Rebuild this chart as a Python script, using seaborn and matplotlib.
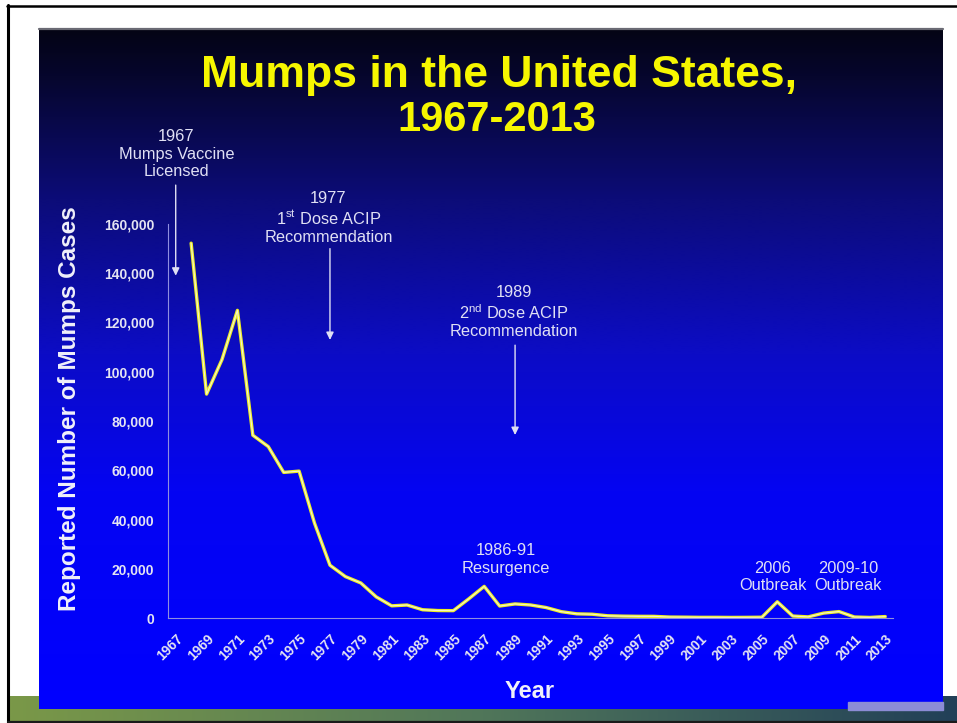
import numpy as np
import pandas as pd
import matplotlib
matplotlib.use("Agg")
import matplotlib.pyplot as plt
from matplotlib.patches import Rectangle
import seaborn as sns

# Reported mumps cases per year
years = list(range(1968, 2014))
cases = [152209, 90918, 104953, 124939, 74215, 69612, 59128, 59647, 38492, 21436,
         16817, 14225, 8576, 4941, 5270, 3355, 3021, 2982, 7790, 12848,
         4866, 5712, 5292, 4264, 2572, 1692, 1537, 906, 751, 683,
         666, 387, 338, 266, 270, 231, 258, 314, 6584, 800,
         454, 1991, 2612, 404, 229, 584]

tick_years = list(range(1967, 2014, 2))
y_ticks = list(range(0, 160001, 20000))

milestone_years = [1967, 1977, 1989]
milestone_texts = ["1967\nMumps Vaccine\nLicensed",
                   "1977\n1$^{\\mathrm{st}}$ Dose ACIP\nRecommendation",
                   "1989\n2$^{\\mathrm{nd}}$ Dose ACIP\nRecommendation"]
event_texts = ["1986-91\nResurgence", "2006\nOutbreak", "2009-10\nOutbreak"]

title_lines = ["Mumps in the United States,", "1967-2013"]

sns.set_style("white")
plt.rcParams["font.family"] = ["Liberation Sans", "DejaVu Sans"]
plt.rcParams["mathtext.fontset"] = "custom"
plt.rcParams["mathtext.rm"] = "Liberation Sans"

W, H = 957, 723
fig = plt.figure(figsize=(W / 100, H / 100), dpi=100, facecolor="white")

# ---- slide background (pixel coordinates) ----
bg = fig.add_axes([0, 0, 1, 1], zorder=0)
bg.set_xlim(0, W)
bg.set_ylim(H, 0)
bg.axis("off")

# footer bar: olive green to dark teal
xs = np.linspace(0, 1, 256)
c_left = np.array([122, 152, 72]) / 255
c_mid = np.array([80, 118, 90]) / 255
c_right = np.array([34, 64, 88]) / 255
bar = np.where(xs[:, None] < 0.5,
               c_left + (c_mid - c_left) * (xs[:, None] / 0.5),
               c_mid + (c_right - c_mid) * ((xs[:, None] - 0.5) / 0.5))
bg.imshow(bar[None, :, :], extent=(10, W, 721, 696), aspect="auto",
          interpolation="bilinear", zorder=1)

# blue panel: dark navy at the top, bright blue at the bottom
stops_y = [0.0, 0.07, 0.25, 0.48, 0.68, 1.0]
stops_c = np.array([[4, 4, 20], [6, 6, 45], [12, 12, 120], [12, 12, 198],
                    [4, 4, 242], [0, 0, 255]]) / 255
ys = np.linspace(0, 1, 400)
grad = np.stack([np.interp(ys, stops_y, stops_c[:, k]) for k in range(3)], axis=1)
bg.imshow(grad[:, None, :], extent=(39, 943, 709, 28), aspect="auto",
          interpolation="bilinear", zorder=2)
bg.plot([39, 943], [29, 29], color="#6a6a74", lw=1.6, zorder=3)
bg.add_patch(Rectangle((848, 702), 95, 8, color="#8c8cd6", zorder=3))

# slide frame
bg.plot([7, W], [5.5, 5.5], color="black", lw=1.8, zorder=4)
bg.plot([8, 8], [5, H], color="black", lw=2.2, zorder=4)
bg.plot([8, W], [722, 722], color="#1a1a1a", lw=1.6, zorder=4)

# ---- chart ----
ax = fig.add_axes([168 / W, 1 - 618 / H, (893 - 168) / W, (618 - 224) / H], zorder=2)
ax.patch.set_alpha(0)

df = pd.DataFrame({"Year": years, "Cases": cases})
sns.lineplot(data=df, x="Year", y="Cases", ax=ax, color="#eeee22", lw=2.4)
sns.lineplot(data=df, x="Year", y="Cases", ax=ax, color="#f4f4d0", lw=0.8)

ax.set_xlim(1966.5, 2013.5)
ax.set_ylim(0, 160000)
ax.set_xlabel("")
ax.set_ylabel("")

label_col = "#e4e4f2"
axis_col = "#8f8fe0"
ax.set_xticks(tick_years)
ax.set_xticklabels([str(y) for y in tick_years], rotation=45, ha="right",
                   va="top", rotation_mode="anchor")
ax.set_yticks(y_ticks)
ax.set_yticklabels([f"{v:,}" for v in y_ticks])
for lab in ax.get_xticklabels() + ax.get_yticklabels():
    lab.set_fontweight("bold")
    lab.set_color(label_col)
ax.tick_params(axis="x", length=3, color=axis_col, labelsize=9.8, pad=7)
ax.tick_params(axis="y", length=0, labelsize=10, pad=10)

for side in ["top", "right"]:
    ax.spines[side].set_visible(False)
for side in ["left", "bottom"]:
    ax.spines[side].set_color(axis_col)
    ax.spines[side].set_linewidth(0.8)

txt_col = "#e0e0f4"
ann_kw = dict(ha="center", va="center", color=txt_col, fontsize=11.8,
              linespacing=1.22, clip_on=False)
arrow_kw = dict(arrowstyle="-|>,head_length=0.45,head_width=0.22",
                color=txt_col, lw=1.0, shrinkA=0, shrinkB=0)

# milestone labels with arrows pointing down
text_pos = [(1967.05, 188400), (1976.9, 162400), (1988.9, 124300)]
arrow_span = [(175800, 139000), (150000, 112900), (110800, 74300)]
for yr, s, (tx, ty), (a0, a1) in zip(milestone_years, milestone_texts, text_pos, arrow_span):
    ax.text(tx, ty, s, **ann_kw)
    ax.annotate("", xy=(yr, a1), xytext=(yr, a0), arrowprops=arrow_kw,
                annotation_clip=False)

# outbreak labels
event_pos = [(1988.4, 23700), (2005.7, 16600), (2010.6, 16600)]
for s, (tx, ty) in zip(event_texts, event_pos):
    ax.text(tx, ty, s, **ann_kw)

# titles and axis labels
title_col = "#f6f600"
fig.text(499 / W, 1 - 75 / H, title_lines[0], ha="center", va="center",
         color=title_col, fontsize=32, fontweight="bold")
fig.text(497 / W, 1 - 120 / H, title_lines[1], ha="center", va="center",
         color=title_col, fontsize=30, fontweight="bold")
fig.text(70 / W, 1 - 409 / H, "Reported Number of Mumps Cases", rotation=90,
         ha="center", va="center", color="#f0f0fa", fontsize=17.5, fontweight="bold")
fig.text(530 / W, 1 - 692 / H, "Year", ha="center", va="center",
         color="#f0f0fa", fontsize=17, fontweight="bold")

fig.savefig("out.png", dpi=100, facecolor="white")
